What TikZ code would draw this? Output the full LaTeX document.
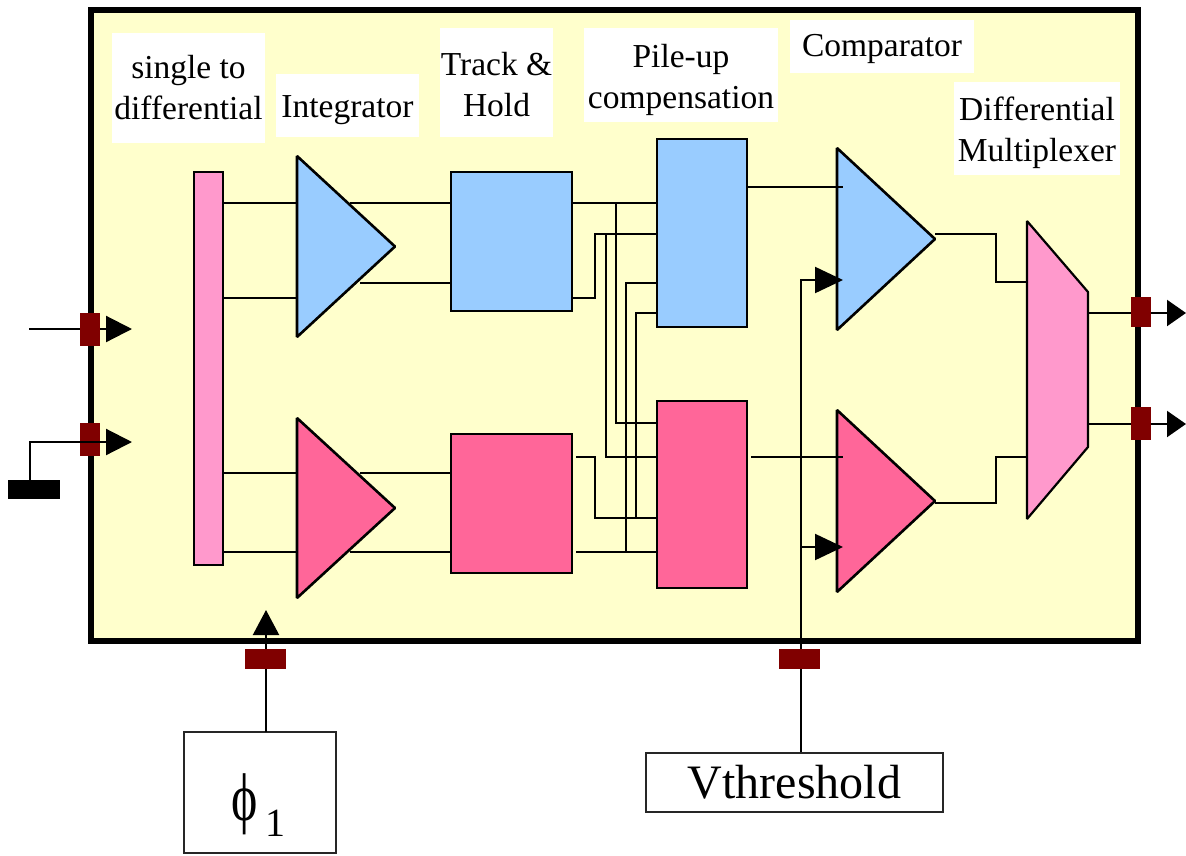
\documentclass[tikz,border=0pt]{standalone}
\usepackage{fontspec}
\usepackage{graphicx}
\setmainfont{Liberation Serif}
\usetikzlibrary{arrows.meta,shapes.geometric}
\definecolor{chipbg}{HTML}{FFFFCC}
\definecolor{cblue}{HTML}{99CCFF}
\definecolor{cpink}{HTML}{FF6699}
\definecolor{lpink}{HTML}{FF99CC}
\definecolor{pad}{HTML}{800000}
\tikzset{
  wire/.style={draw=black,line width=2.2pt,line join=miter},
  tipwire/.style={wire,-{Triangle[length=#1,width=26pt]}},
  block/.style={draw=black,line width=2.6pt,inner sep=0pt,outer sep=0pt},
  amp/.style={block,isosceles triangle,isosceles triangle stretches,line join=bevel,minimum height=98pt,anchor=lower side},
  padbox/.style={fill=pad,draw=none,inner sep=0pt,outer sep=0pt},
  caption/.style={fill=white,inner sep=0pt,outer sep=0pt,align=center,font=\fontsize{33.5}{41}\selectfont},
  extbox/.style={draw=black!85,line width=2pt,fill=white,inner sep=0pt,outer sep=0pt},
}
\begin{document}
\begin{tikzpicture}[x=1pt,y=-1pt]
\useasboundingbox (0,0) rectangle (1186,855);
% chip
\node[draw=black,line width=6pt,fill=chipbg,inner sep=0pt,outer sep=0pt,minimum width=1047pt,minimum height=631pt] (chip) at (614.5,325.5) {};
% captions
\node[caption,minimum width=153pt,minimum height=110pt] (capsd) at (188.5,88) {\rule{0pt}{22pt}single to\\differential};
\node[caption,minimum width=143pt,minimum height=63pt] (capint) at (347.5,105.5) {\rule{0pt}{32pt}Integrator};
\node[caption,minimum width=113pt,minimum height=109pt] (capth) at (496.5,82.5) {\rule{0pt}{28pt}Track \&\\Hold};
\node[caption,minimum width=194pt,minimum height=94pt] (cappu) at (681,75) {\rule{0pt}{34pt}Pile-up\\compensation};
\node[caption,minimum width=184pt,minimum height=53pt] (capcmp) at (882,46.5) {\rule{0pt}{28pt}Comparator};
\node[caption,minimum width=166pt,minimum height=93pt] (capmux) at (1037,128.5) {\rule{0pt}{32pt}Differential\\Multiplexer};
% block anchors
\node[block,fill=lpink,minimum width=29pt,minimum height=393pt] (bar) at (208.5,368.5) {};
\node[block,fill=cblue,minimum width=121pt,minimum height=139pt] (tha) at (511.5,241.5) {};
\node[block,fill=cpink,minimum width=121pt,minimum height=139pt] (thb) at (511.5,503.5) {};
\coordinate (mux) at (1027,370);
\coordinate (muxr) at (1088,370);
% wires below the blocks
\coordinate (ampa) at (297,246.5);
\coordinate (ampb) at (297,508);
\coordinate (cmpa) at (837,239);
\coordinate (cmpb) at (837,501);
\coordinate (pua) at (657,233);
\coordinate (pub) at (657,494.5);
\draw[wire] (bar.east |- 0,203) -- (ampa |- 0,203);
\draw[wire] (bar.east |- 0,298) -- (ampa |- 0,298);
\draw[wire] (bar.east |- 0,473) -- (ampb |- 0,473);
\draw[wire] (bar.east |- 0,552) -- (ampb |- 0,552);
\draw[wire] (350,203) -- (tha.west |- 0,203);
\draw[wire] (360,283) -- (tha.west |- 0,283);
\draw[wire] (360,473) -- (thb.west |- 0,473);
\draw[wire] (350,552) -- (thb.west |- 0,552);
% pile-up interconnect
\draw[wire] (tha.east |- 0,203) -- (pua |- 0,203);
\draw[wire] (616,203) -- (616,423) -- (pub |- 0,423);
\draw[wire] (tha.east |- 0,298) -- (595,298) -- (595,234) -- (pua |- 0,234);
\draw[wire] (606,234) -- (606,457) -- (pub |- 0,457);
\draw[wire] (pua |- 0,283) -- (626,283) -- (626,552);
\draw[wire] (pua |- 0,313) -- (636,313) -- (636,518);
\draw[wire] (576,457) -- (595,457) -- (595,518) -- (pub |- 0,518);
\draw[wire] (576,552) -- (pub |- 0,552);
% blocks
\node[amp,fill=cblue,minimum width=181pt] (ampan) at (ampa) {};
\node[amp,fill=cpink,minimum width=180pt] (ampbn) at (ampb) {};
\node[block,fill=cblue,minimum width=90pt,minimum height=188pt] (puan) at (702,233) {};
\node[block,fill=cpink,minimum width=90pt,minimum height=187pt] (pubn) at (702,494.5) {};
\node[amp,fill=cblue,minimum width=182pt] (cmpan) at (cmpa) {};
\node[amp,fill=cpink,minimum width=182pt] (cmpbn) at (cmpb) {};
\draw[block,line width=2.2pt,fill=lpink,line join=bevel] (mux |- 0,221) -- (muxr |- 0,292) -- (muxr |- 0,447) -- (mux |- 0,519) -- cycle;
% comparator connections
\draw[wire] (puan.east |- 0,187) -- (843,187);
\draw[wire] (751,457) -- (843,457);
\coordinate (vthin) at (801,753);
\draw[tipwire=28pt] (vthin) -- (801,280) -- (843,280);
\draw[tipwire=28pt] (801,547) -- (843,547);
\draw[wire] (cmpan.apex |- 0,234) -- (996,234) -- (996,282) -- (mux |- 0,282);
\draw[wire] (cmpbn.apex |- 0,503) -- (996,503) -- (996,457) -- (mux |- 0,457);
% outputs
\draw[tipwire=19pt] (muxr |- 0,313) -- (1186,313);
\draw[tipwire=19pt] (muxr |- 0,424) -- (1186,424);
\node[padbox,minimum width=20pt,minimum height=30pt] (pado1) at (1141,312) {};
\node[padbox,minimum width=20pt,minimum height=33pt] (pado2) at (1141,423.5) {};
% inputs
\coordinate (ina) at (29,329);
\coordinate (inaend) at (132,329);
\draw[tipwire=26pt] (ina) -- (inaend);
\node[padbox,minimum width=20pt,minimum height=33pt] (padi1) at (90,329.5) {};
\node[padbox,minimum width=20pt,minimum height=33pt] (padi2) at (90,439.5) {};
\node[fill=black,inner sep=0pt,outer sep=0pt,minimum width=52pt,minimum height=19pt] (gnd) at (34,489.5) {};
\coordinate (inbend) at (132,442);
\draw[tipwire=26pt] (gnd.north -| 30,0) -- (30,442) -- (inbend);
% clock and threshold
\node[extbox,minimum width=152pt,minimum height=121pt] (phibox) at (260,792.5) {};
\node[inner sep=0pt] (phitext) at (258.5,805) {\scalebox{1}[1.35]{\fontsize{50}{50}\selectfont ϕ}\hspace{8pt}\raisebox{-16pt}{\fontsize{40}{40}\selectfont 1}};
\coordinate (phiin) at (266,610);
\draw[tipwire=25pt] (phiin |- phibox.north) -- (phiin);
\node[padbox,minimum width=41pt,minimum height=20pt] (padc) at (265.5,659) {};
\node[extbox,minimum width=297pt,minimum height=59pt,font=\fontsize{48}{48}\selectfont] (vth) at (794.5,782.5) {Vthreshold};
\node[padbox,minimum width=41pt,minimum height=20pt] (padv) at (799.5,659) {};
\end{tikzpicture}
\end{document}
